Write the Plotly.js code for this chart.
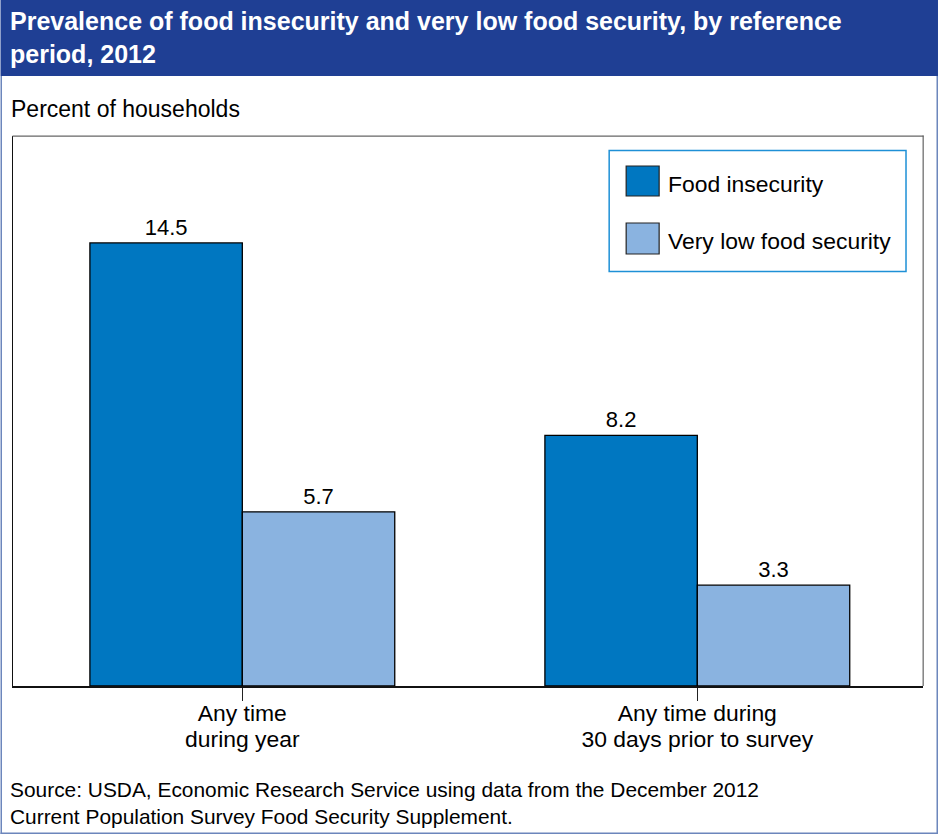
<!DOCTYPE html>
<html>
<head>
<meta charset="utf-8">
<script src="https://cdn.plot.ly/plotly-3.0.1.min.js"></script>
<style>html,body{margin:0;padding:0;background:#fff}#chart{width:938px;height:834px}</style>
</head>
<body>
<div id="chart"></div>
<script>
const categories = ["Any time<br>during year", "Any time during<br>30 days prior to survey"];
const foodInsecurity = [14.5, 8.2];
const veryLowFoodSecurity = [5.7, 3.3];
const seriesNames = ["Food insecurity", "Very low food security"];
const seriesColors = ["#0077C1", "#8AB3E0"];
const chartTitle = "Prevalence of food insecurity and very low food security, by reference<br>period, 2012";
const unitLabel = "Percent of households";
const sourceNote = "Source: USDA, Economic Research Service using data from the December 2012<br>Current Population Survey Food Security Supplement.";

const W = 938, H = 834;
const m = {l: 12.5, r: 15, t: 136, b: 148};
const FONT = "Liberation Sans, Arial, sans-serif";
const px = x => (x - m.l) / (W - m.l - m.r);
const py = y => 1 - (y - m.t) / (H - m.t - m.b);

function rect(x0, y0, x1, y1, fill, line, lw) {
  return {type: "rect", xref: "paper", yref: "paper", layer: "above",
    x0: px(x0), x1: px(x1), y0: py(y0), y1: py(y1),
    fillcolor: fill, line: {color: line || fill, width: lw === undefined ? 0 : lw}};
}
function note(x, y, text, size, color, bold) {
  return {xref: "paper", yref: "paper", x: px(x), y: py(y), text: bold ? "<b>" + text + "</b>" : text,
    showarrow: false, xanchor: "left", yanchor: "middle", align: "left",
    font: {family: FONT, size: size, color: color || "#000"}};
}

const traces = [foodInsecurity, veryLowFoodSecurity].map((vals, i) => ({
  type: "bar", name: seriesNames[i], x: categories, y: vals,
  marker: {color: seriesColors[i], line: {color: "#000", width: 1.3}},
  text: vals.map(v => v.toFixed(1)), textposition: "outside", cliponaxis: false,
  textfont: {family: FONT, size: 22, color: "#000"}, showlegend: false
}));

const layout = {
  width: W, height: H, margin: m, autosize: false,
  paper_bgcolor: "#fff", plot_bgcolor: "#fff",
  barmode: "group", bargap: 0.33, bargroupgap: 0,
  font: {family: FONT, color: "#000"},
  xaxis: {type: "category", range: [-0.504, 1.496], showline: true, linecolor: "#111", linewidth: 1.5,
    ticks: "outside", ticklen: 13, tickcolor: "#222", tickwidth: 1, ticklabelstandoff: -7,
    tickfont: {family: FONT, size: 22.9, color: "#000"}, showgrid: false, automargin: false},
  yaxis: {range: [0, 18], showline: true, linecolor: "#111", linewidth: 1.5,
    showticklabels: false, ticks: "", showgrid: false, zeroline: false, automargin: false},
  shapes: [
    rect(0, 0, W, 76, "#1F3F94"),
    rect(0, 76, 1.5, H, "#6C86BC"),
    rect(W - 1.5, 76, W, H, "#6C86BC"),
    rect(0, H - 1.5, W, H, "#6C86BC"),
    rect(12, 135.5, 923.5, 136.7, "#666"),
    rect(922.6, 135.5, 923.7, 686, "#555"),
    rect(609, 150.5, 906, 271.5, "#fff", "#1E90D6", 1.5),
    rect(626, 166, 659, 196, seriesColors[0], "#222", 1.2),
    rect(626, 223, 659, 254, seriesColors[1], "#222", 1.2)
  ],
  annotations: [
    note(7, 37.5, chartTitle, 25, "#fff", true),
    note(8, 109, unitLabel, 23),
    note(666, 184, seriesNames[0], 22.9),
    note(666, 241, seriesNames[1], 22.9),
    note(7, 802.5, sourceNote, 20.9)
  ]
};

Plotly.newPlot("chart", traces, layout, {displayModeBar: false, staticPlot: true}).then(gd => {
  // The reference sets its two-line axis labels tighter than Plotly's default line height.
  gd.querySelectorAll(".xtick text tspan.line").forEach((line, i) => {
    if (i % 2 === 1) line.setAttribute("dy", "26px");
  });
});
</script>
</body>
</html>
